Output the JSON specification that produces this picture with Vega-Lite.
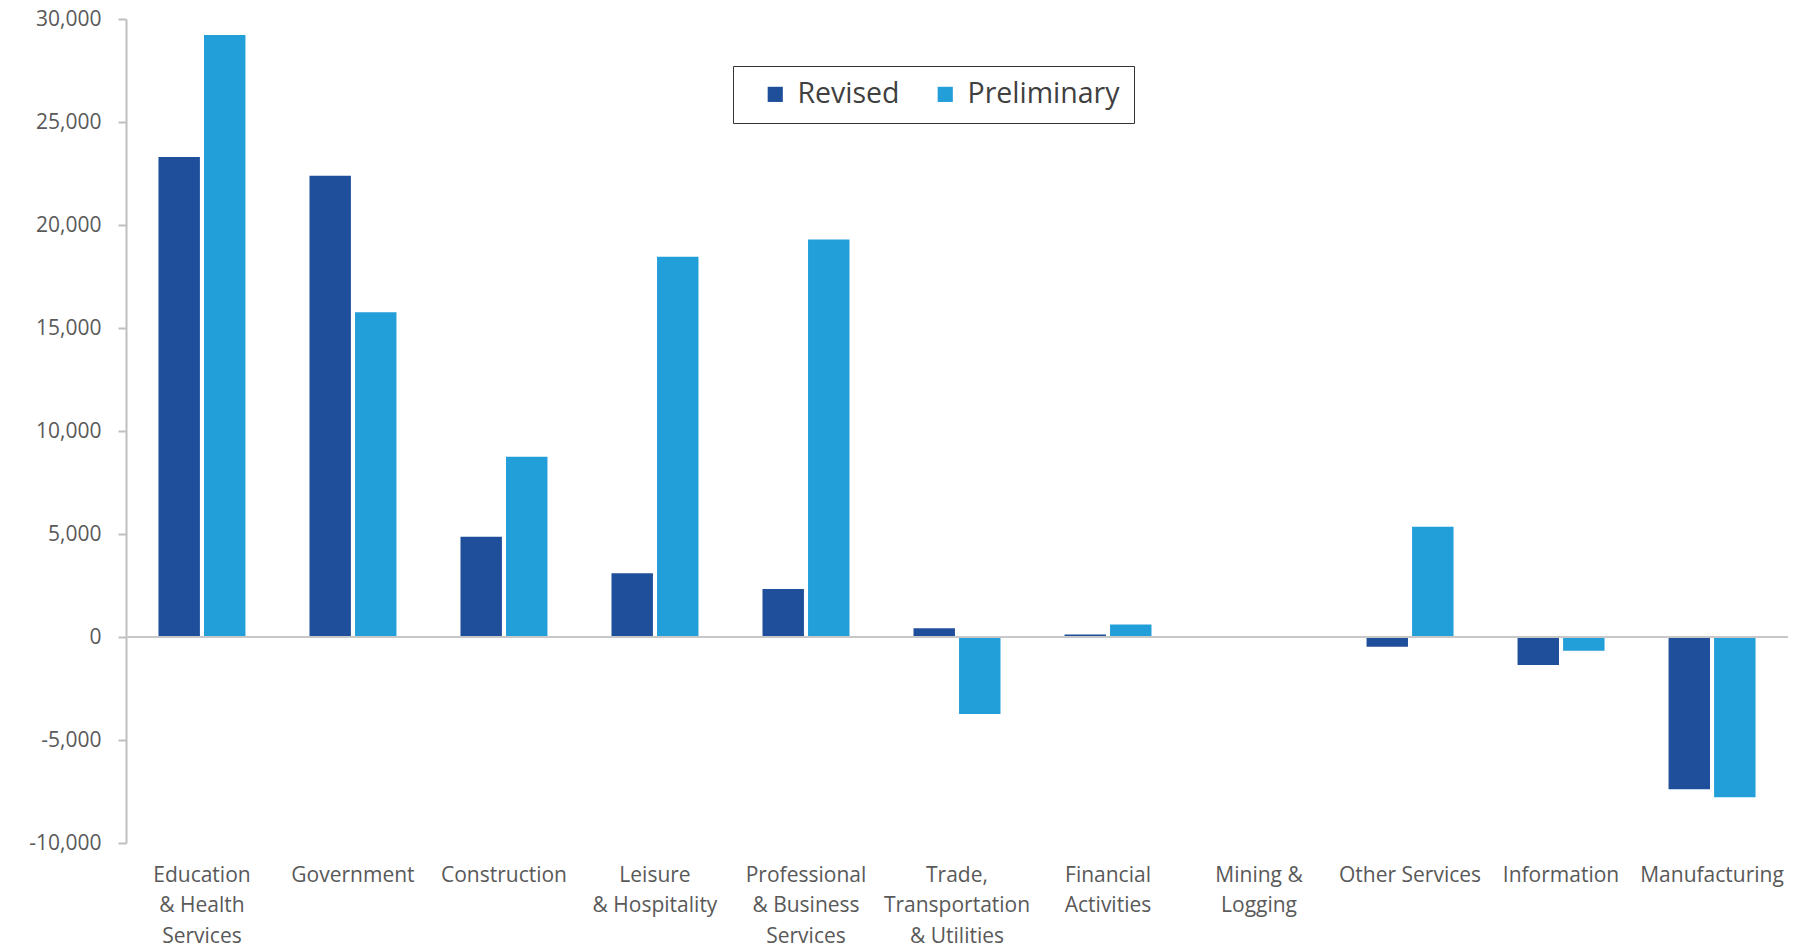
{
  "$schema": "https://vega.github.io/schema/vega-lite/v6.json",
  "width": 1662,
  "height": 824,
  "autosize": {"type": "none"},
  "padding": {"left": 126, "top": 19, "right": 5, "bottom": 105},
  "background": "white",
  "config": {"view": {"stroke": null}, "font": "Open Sans"},
  "datasets": {
    "jobs": [
      {"sector": "Education & Health Services", "series": "Revised", "value": 23300},
      {"sector": "Education & Health Services", "series": "Preliminary", "value": 29220},
      {"sector": "Government", "series": "Revised", "value": 22390},
      {"sector": "Government", "series": "Preliminary", "value": 15760},
      {"sector": "Construction", "series": "Revised", "value": 4870},
      {"sector": "Construction", "series": "Preliminary", "value": 8750},
      {"sector": "Leisure & Hospitality", "series": "Revised", "value": 3090},
      {"sector": "Leisure & Hospitality", "series": "Preliminary", "value": 18460},
      {"sector": "Professional & Business Services", "series": "Revised", "value": 2330},
      {"sector": "Professional & Business Services", "series": "Preliminary", "value": 19300},
      {"sector": "Trade, Transportation & Utilities", "series": "Revised", "value": 420},
      {"sector": "Trade, Transportation & Utilities", "series": "Preliminary", "value": -3740},
      {"sector": "Financial Activities", "series": "Revised", "value": 120},
      {"sector": "Financial Activities", "series": "Preliminary", "value": 610},
      {"sector": "Mining & Logging", "series": "Revised", "value": 0},
      {"sector": "Mining & Logging", "series": "Preliminary", "value": 0},
      {"sector": "Other Services", "series": "Revised", "value": -470},
      {"sector": "Other Services", "series": "Preliminary", "value": 5350},
      {"sector": "Information", "series": "Revised", "value": -1360},
      {"sector": "Information", "series": "Preliminary", "value": -670},
      {"sector": "Manufacturing", "series": "Revised", "value": -7390},
      {"sector": "Manufacturing", "series": "Preliminary", "value": -7780}
    ]
  },
  "layer": [
    {
      "data": {"name": "jobs"},
      "mark": {"type": "bar"},
      "encoding": {
        "x": {
          "field": "sector",
          "type": "nominal",
          "sort": null,
          "scale": {"paddingInner": 0.424, "paddingOuter": 0.215},
          "axis": {
            "title": null,
            "orient": "bottom",
            "domain": false,
            "ticks": false,
            "labelAngle": 0,
            "labelFontSize": 21,
            "labelColor": "#595959",
            "labelPadding": 21,
            "labelLineHeight": 30.5,
            "labelLimit": 400,
            "labelExpr": "datum.label == 'Education & Health Services' ? ['Education', '& Health', 'Services'] : datum.label == 'Leisure & Hospitality' ? ['Leisure', '& Hospitality'] : datum.label == 'Professional & Business Services' ? ['Professional', '& Business', 'Services'] : datum.label == 'Trade, Transportation & Utilities' ? ['Trade,', 'Transportation', '& Utilities'] : datum.label == 'Financial Activities' ? ['Financial', 'Activities'] : datum.label == 'Mining & Logging' ? ['Mining &', 'Logging'] : datum.label"
          }
        },
        "xOffset": {
          "field": "series",
          "type": "nominal",
          "sort": ["Revised", "Preliminary"],
          "scale": {"paddingInner": 0.09, "paddingOuter": 0}
        },
        "y": {
          "field": "value",
          "type": "quantitative",
          "stack": null,
          "scale": {"domain": [-10000, 30000], "nice": false, "zero": false},
          "axis": {
            "title": null,
            "values": [-10000, -5000, 0, 5000, 10000, 15000, 20000, 25000, 30000],
            "format": ",.0f",
            "labelExpr": "replace(datum.label, '\u2212', '-')",
            "grid": false,
            "domainColor": "#BFBFBF",
            "domainWidth": 2,
            "tickColor": "#BFBFBF",
            "tickWidth": 2,
            "tickSize": 8,
            "labelFontSize": 21,
            "labelColor": "#595959",
            "labelPadding": 17
          }
        },
        "color": {
          "field": "series",
          "type": "nominal",
          "sort": ["Revised", "Preliminary"],
          "scale": {"domain": ["Revised", "Preliminary"], "range": ["#1F4F9B", "#229ED9"]},
          "legend": {
            "title": null,
            "orient": "none",
            "legendX": 607,
            "legendY": 47,
            "direction": "horizontal",
            "strokeColor": "#333333",
            "padding": 14,
            "symbolType": "square",
            "symbolSize": 230,
            "symbolStrokeWidth": 0,
            "symbolOffset": 14,
            "labelFontSize": 28.5,
            "labelColor": "#404040",
            "labelOffset": 8,
            "columnPadding": 17
          }
        }
      }
    },
    {
      "data": {"values": [{"zero": 0}]},
      "mark": {"type": "rule", "color": "#C8C8C8", "strokeWidth": 2},
      "encoding": {"y": {"field": "zero", "type": "quantitative"}}
    }
  ]
}
